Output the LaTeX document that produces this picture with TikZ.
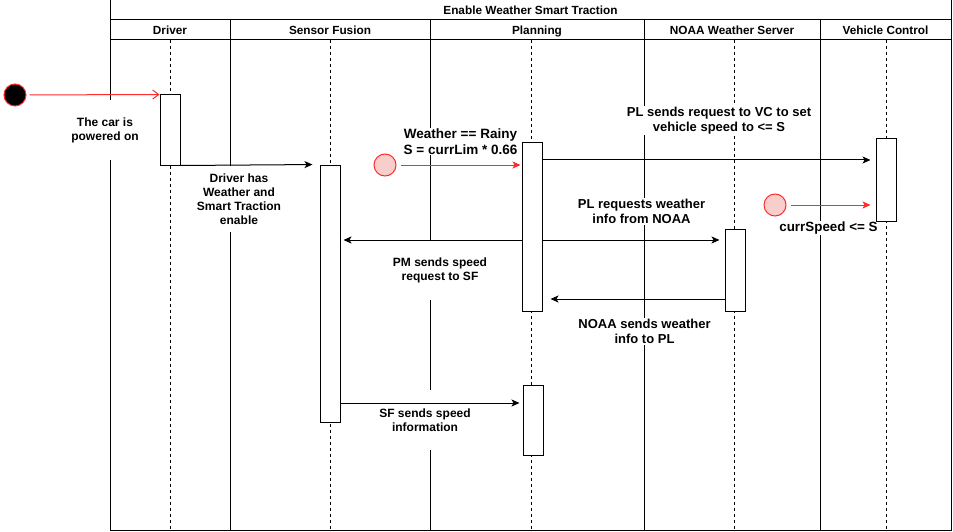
\documentclass[tikz,border=0pt]{standalone}
\usepackage{fontspec}
\setmainfont{Liberation Sans}
\usetikzlibrary{arrows.meta,calc}
\definecolor{pinkfill}{HTML}{F8CECC}
\definecolor{evred}{HTML}{FF2A2A}
\begin{document}
\begin{tikzpicture}[x=1pt,y=-1pt,
  line width=1pt,
  hdr/.style={font=\fontsize{11.8}{13}\selectfont\bfseries, inner sep=0pt, text height=8.5pt, text depth=0pt},
  life/.style={draw=black, line width=0.8pt, dash pattern=on 3pt off 3pt},
  act/.style={draw=black, fill=white, minimum width=20pt, inner sep=0pt},
  msg/.style={draw=black, -{Stealth[length=8pt,width=7pt,inset=2pt]}},
  rmsg/.style={draw=evred, -{Stealth[length=8pt,width=7pt,inset=2pt]}},
  lbl/.style={fill=white, align=center, inner sep=1pt, font=\fontsize{12}{14}\selectfont\bfseries},
  lblb/.style={fill=white, align=center, inner sep=1pt, font=\fontsize{13}{15.5}\selectfont\bfseries},
  evt/.style={circle, draw=evred, fill=pinkfill, minimum size=22pt, inner sep=0pt},
]
\useasboundingbox (0,0) rectangle (953,532);
% pool frame and lanes
\draw (110,0) rectangle (951,530);
\draw (110,20) -- (951,20);
\draw (110,40) -- (951,40);
\draw (230,20) -- (230,530);
\draw (430,20) -- (430,530);
\draw (644,20) -- (644,530);
\draw (820,20) -- (820,530);
% headers
\node[hdr] (title) at (530.5,10.5) {Enable Weather Smart Traction};
\node[hdr] (hdrv) at (170,30.5) {Driver};
\node[hdr] (hsf) at (330,30.5) {Sensor Fusion};
\node[hdr] (hpl) at (537,30.5) {Planning};
\node[hdr] (hno) at (732,30.5) {NOAA Weather Server};
\node[hdr] (hvc) at (885.5,30.5) {Vehicle Control};
% lifelines
\draw[life] (170,40) -- (170,530);
\draw[life] (330,40) -- (330,530);
\draw[life] (531,40) -- (531,530);
\draw[life] (734,40) -- (734,530);
\draw[life] (886,40) -- (886,530);
% labels (white background)
\node[lbl, minimum height=60pt] (lcar) at (105,130) {The car is\\powered on};
\node[lbl, minimum height=66pt] (ldrv) at (239,199) {Driver has\\Weather and\\Smart Traction\\enable};
\node[lblb, font=\fontsize{13.5}{15.5}\selectfont\bfseries] (lrain) at (460.5,141.5) {Weather == Rainy\\S = currLim * 0.66};
\node[lblb] (lvc) at (719,120.5) {PL sends request to VC to set\\vehicle speed to <= S};
\node[lblb] (lreq) at (641.5,211.5) {PL requests weather\\info from NOAA};
\node[lblb, font=\fontsize{13.4}{15.5}\selectfont\bfseries] (lcur) at (828.5,228) {currSpeed <= S};
\node[lbl, minimum height=60pt] (lpm) at (440,270) {PM sends speed\\request to SF};
\node[lblb] (lnoaa) at (644.5,331.5) {NOAA sends weather\\info to PL};
\node[lbl, minimum height=60pt] (lsf) at (425,420) {SF sends speed\\information};
% activation boxes
\node[act, minimum height=70pt] (drv) at (170,130) {};
\node[act, minimum height=257.5pt] (sf) at (330,293.75) {};
\node[act, minimum height=168pt] (pl1) at (532,227) {};
\node[act, minimum height=70pt] (pl2) at (533,420) {};
\node[act, minimum height=82pt] (noaa) at (735,270) {};
\node[act, minimum height=82pt] (vc) at (886,180) {};
% events
\node[circle, draw=evred, fill=black, minimum size=22pt, inner sep=0pt] (start) at (15,95) {};
\node[evt] (c1) at (385,165) {};
\node[evt] (c2) at (775,205) {};
% message levels
\coordinate (m160) at (0,160);
\coordinate (m240) at (0,240);
\coordinate (m299) at (0,299);
\coordinate (m403) at (0,403);
% connectors
\draw[evred, shorten <=3pt, -{Straight Barb[length=6pt,width=9pt]}] (start) -- (drv.north west);
\draw[msg, shorten >=7pt] (drv.south east) -- (sf.north west);
\draw[rmsg, shorten <=4pt, shorten >=1pt] (c1) -- (c1 -| pl1.west);
\draw[msg, shorten >=5pt] (pl1.east |- m160) -- (vc.west |- m160);
\draw[rmsg, shorten <=4pt, shorten >=5pt] (c2) -- (c2 -| vc.west);
\draw[msg, shorten >=5pt] (pl1.east |- m240) -- (noaa.west |- m240);
\draw[msg, shorten >=3pt] (pl1.west |- m240) -- (sf.east |- m240);
\draw[msg, shorten >=8pt] (noaa.west |- m299) -- (pl1.east |- m299);
\draw[msg, shorten >=3pt] (sf.east |- m403) -- (pl2.west |- m403);
\end{tikzpicture}
\end{document}
